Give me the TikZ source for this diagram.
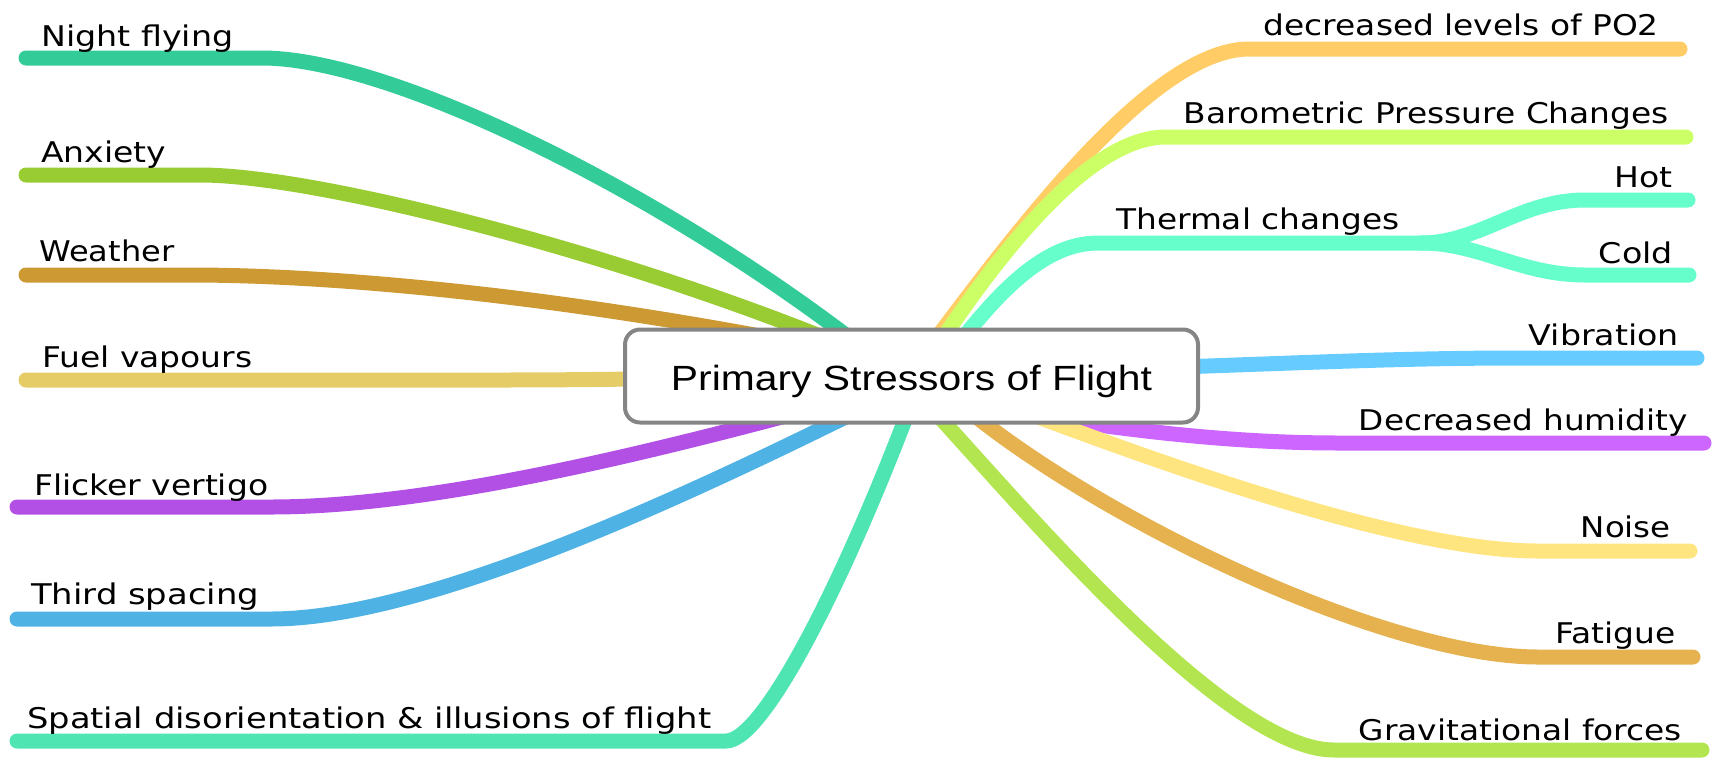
\documentclass[tikz,border=0pt]{standalone}
\usepackage{fontspec}
\usepackage{graphicx}
\setmainfont{DejaVu Sans}
\newfontfamily\boxfont{Liberation Sans}
\definecolor{cNight}{HTML}{33CC99}
\definecolor{cAnx}{HTML}{99CC33}
\definecolor{cWeather}{HTML}{CC9933}
\definecolor{cFuel}{HTML}{E5CC66}
\definecolor{cFlicker}{HTML}{B24FE5}
\definecolor{cThird}{HTML}{4FB2E5}
\definecolor{cSpatial}{HTML}{4FE5B2}
\definecolor{cPO}{HTML}{FFCC66}
\definecolor{cBaro}{HTML}{CCFF66}
\definecolor{cTherm}{HTML}{66FFCC}
\definecolor{cVib}{HTML}{66CCFF}
\definecolor{cHum}{HTML}{CC66FF}
\definecolor{cNoise}{HTML}{FFE580}
\definecolor{cFat}{HTML}{E5B24F}
\definecolor{cGrav}{HTML}{B2E54F}
\definecolor{cBorder}{HTML}{858585}
\newcommand{\fitw}[2]{\resizebox{#1pt}{\height}{#2}}
\tikzset{
  branch/.style={line width=15pt, line cap=round},
  lbl/.style={inner sep=0pt, font=\fontsize{28.5}{34}\selectfont},
  lleft/.style={lbl, anchor=base west},
  lright/.style={lbl, anchor=base east},
  rootbox/.style={draw=cBorder, line width=4pt, fill=white, rounded corners=15pt,
    minimum width=573pt, minimum height=93pt, inner sep=0pt},
}
\begin{document}
\begin{tikzpicture}[x=1pt, y=-1pt]
\useasboundingbox (0,0) rectangle (1713,758);
% ---------- coordinates ----------
% left
\coordinate (nfA) at (26,58);   \coordinate (nfB) at (262,58);  \coordinate (nfR) at (900,378);
\coordinate (anA) at (26,175);  \coordinate (anB) at (200,175); \coordinate (anR) at (900,370);
\coordinate (weA) at (26,275);  \coordinate (weB) at (190,275); \coordinate (weR) at (880,360);
\coordinate (fuA) at (26,380);  \coordinate (fuB) at (500,380); \coordinate (fuR) at (880,376);
\coordinate (flA) at (17,507);  \coordinate (flB) at (271,507); \coordinate (flR) at (900,385);
\coordinate (thA) at (17,619);  \coordinate (thB) at (271,619); \coordinate (thR) at (900,390);
\coordinate (spA) at (17,741);  \coordinate (spB) at (726,741); \coordinate (spR) at (920,380);
% right
\coordinate (poA) at (1680,49);  \coordinate (poB) at (1249,49);  \coordinate (poR) at (920,360);
\coordinate (baA) at (1686,137); \coordinate (baB) at (1166,137); \coordinate (baR) at (925,365);
\coordinate (tcS) at (1421,243); \coordinate (tcB) at (1098,243); \coordinate (tcR) at (935,375);
\coordinate (hoA) at (1688,200); \coordinate (hoB) at (1585,200);
\coordinate (coA) at (1689,275); \coordinate (coB) at (1585,275);
\coordinate (viA) at (1697,358); \coordinate (viB) at (1520,358); \coordinate (viR) at (1150,368);
\coordinate (huA) at (1704,443); \coordinate (huB) at (1340,443); \coordinate (huR) at (1000,410);
\coordinate (noA) at (1690,551); \coordinate (noB) at (1538,551); \coordinate (noR) at (980,395);
\coordinate (faA) at (1693,657); \coordinate (faB) at (1538,657); \coordinate (faR) at (950,395);
\coordinate (grA) at (1702,750); \coordinate (grB) at (1334,750); \coordinate (grR) at (910,385);
% ---------- branches ----------
\draw[branch, cNight]   (nfA) -- (nfB) .. controls (400,58) and (700,212) .. (nfR);
\draw[branch, cAnx]     (anA) -- (anB) .. controls (330,175) and (680,270) .. (anR);
\draw[branch, cWeather] (weA) -- (weB) .. controls (350,275) and (600,300) .. (weR);
\draw[branch, cFuel]    (fuA) -- (fuB) .. controls (650,380) and (750,376) .. (fuR);
\draw[branch, cFlicker] (flA) -- (flB) .. controls (450,507) and (700,440) .. (flR);
\draw[branch, cThird]   (thA) -- (thB) .. controls (430,619) and (700,490) .. (thR);
\draw[branch, cSpatial] (spA) -- (spB) .. controls (765,741) and (850,570) .. (spR);
\draw[branch, cPO]      (poA) -- (poB) .. controls (1150,49) and (1010,240) .. (poR);
\draw[branch, cBaro]    (baA) -- (baB) .. controls (1090,137) and (1000,250) .. (baR);
\draw[branch, cTherm]   (tcS) -- (tcB) .. controls (1040,243) and (990,300) .. (tcR);
\draw[branch, cTherm]   (hoA) -- (hoB) .. controls (1520,200) and (1480,243) .. (tcS);
\draw[branch, cTherm]   (coA) -- (coB) .. controls (1520,275) and (1480,243) .. (tcS);
\draw[branch, cVib]     (viA) -- (viB) .. controls (1400,358) and (1300,363) .. (viR);
\draw[branch, cHum]     (huA) -- (huB) .. controls (1250,443) and (1150,435) .. (huR);
\draw[branch, cNoise]   (noA) -- (noB) .. controls (1400,551) and (1150,460) .. (noR);
\draw[branch, cFat]     (faA) -- (faB) .. controls (1380,657) and (1080,510) .. (faR);
\draw[branch, cGrav]    (grA) -- (grB) .. controls (1220,750) and (1000,480) .. (grR);
% ---------- central node ----------
\node[rootbox] (root) at (911.5,376) {};
\node[inner sep=0pt, anchor=base, font=\boxfont\fontsize{35}{42}\selectfont] (roottxt) at (911.5,390)
  {\fitw{481}{Primary Stressors of Flight}};
% ---------- labels ----------
\node[lleft] (lNight)   at (41,46)  {\fitw{192}{Night flying}};
\node[lleft] (lAnx)     at (41,162) {\fitw{125}{Anxiety}};
\node[lleft] (lWeather) at (39,261) {\fitw{135}{Weather}};
\node[lleft] (lFuel)    at (42,367) {\fitw{210}{Fuel vapours}};
\node[lleft] (lFlicker) at (34,495) {\fitw{234}{Flicker vertigo}};
\node[lleft] (lThird)   at (31,604) {\fitw{228}{Third spacing}};
\node[lleft] (lSpatial) at (27,728) {\fitw{684}{Spatial disorientation \& illusions of flight}};
\node[lright] (lPO)     at (1659,35)  {\fitw{395}{decreased levels of PO2}};
\node[lright] (lBaro)   at (1669,123) {\fitw{485}{Barometric Pressure Changes}};
\node[lleft]  (lTherm)  at (1116,229) {\fitw{283}{Thermal changes}};
\node[lright] (lHot)    at (1673,187) {\fitw{58}{Hot}};
\node[lright] (lCold)   at (1673,263) {\fitw{74}{Cold}};
\node[lright] (lVib)    at (1679,345) {\fitw{150}{Vibration}};
\node[lright] (lHum)    at (1688,430) {\fitw{329}{Decreased humidity}};
\node[lright] (lNoise)  at (1671,537) {\fitw{90}{Noise}};
\node[lright] (lFat)    at (1676,643) {\fitw{120}{Fatigue}};
\node[lright] (lGrav)   at (1682,740) {\fitw{323}{Gravitational forces}};
\end{tikzpicture}
\end{document}
